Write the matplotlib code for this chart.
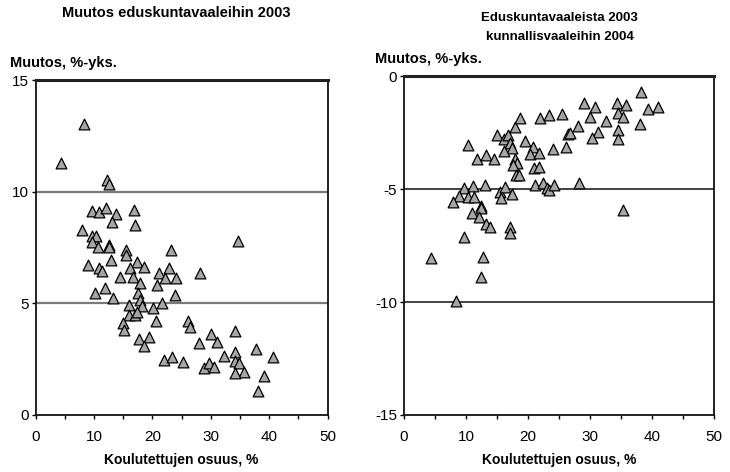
import matplotlib
matplotlib.use("Agg")
import matplotlib.pyplot as plt

plt.rcParams["font.family"] = ["Liberation Sans", "DejaVu Sans"]
plt.rcParams["axes.unicode_minus"] = False

# vasen paneeli: muutos eduskuntavaaleihin 2003
left_x = [4.4, 8.3, 12.3, 12.6, 9.6, 10.9, 12.1, 13.8, 16.9, 13.1, 17.0, 7.9, 9.6, 10.3,
          9.7, 10.6, 12.5, 12.6, 15.5, 15.5, 23.2, 34.7, 8.9, 10.9, 11.4, 12.9, 17.3, 16.1,
          18.5, 21.1, 22.8, 28.1, 14.4, 16.7, 17.9, 22.2, 24.0, 20.8, 10.2, 11.8, 13.2, 17.6,
          23.8, 17.8, 21.7, 20.1, 16.0, 18.2, 16.0, 17.1, 17.4, 15.0, 15.2, 20.6, 17.7, 19.4,
          18.5, 26.1, 26.5, 27.9, 30.0, 31.1, 34.1, 21.9, 23.3, 25.3, 28.8, 29.7, 30.5, 32.3,
          34.1, 34.1, 34.8, 35.6, 34.1, 37.7, 40.7, 39.1, 38.1]
left_y = [11.3, 13.05, 10.5, 10.35, 9.12, 9.09, 9.27, 9.01, 9.16, 8.62, 8.52, 8.30, 8.0, 8.0,
          7.74, 7.52, 7.62, 7.52, 7.40, 7.17, 7.40, 7.77, 6.73, 6.58, 6.43, 6.95, 6.87, 6.58,
          6.61, 6.35, 6.58, 6.35, 6.20, 6.17, 5.91, 6.13, 6.13, 5.83, 5.46, 5.68, 5.25, 5.46,
          5.38, 5.16, 5.0, 4.81, 4.93, 4.89, 4.48, 4.48, 4.6, 4.14, 3.81, 4.23, 3.41, 3.48,
          3.11, 4.23, 3.92, 3.21, 3.62, 3.26, 3.77, 2.47, 2.61, 2.36, 2.09, 2.32, 2.14, 2.66,
          2.8, 2.43, 2.35, 1.94, 1.87, 2.95, 2.61, 1.75, 1.08]

# oikea paneeli: eduskuntavaaleista 2003 kunnallisvaaleihin 2004
right_x = [4.3, 12.8, 9.7, 10.4, 11.8, 13.2, 14.5, 15.0, 16.1, 16.8, 17.1, 17.5, 16.1, 17.9,
           18.7, 19.5, 17.9, 18.2, 17.6, 18.1, 18.6, 20.8, 20.3, 21.8, 21.0, 21.8, 22.0, 23.4,
           25.5, 24.0, 26.2, 26.5, 9.6, 11.1, 13.0, 8.9, 7.9, 10.4, 11.3, 12.5, 12.4, 11.0,
           12.1, 13.2, 13.9, 15.5, 15.6, 16.3, 17.4, 17.1, 17.1, 21.2, 22.4, 23.0, 23.4, 24.2,
           12.4, 8.4, 38.3, 29.0, 30.8, 34.4, 35.8, 39.4, 41.0, 30.0, 34.5, 35.4, 32.6, 38.0,
           28.1, 26.7, 31.3, 30.3, 34.5, 34.5, 28.3, 35.4]
right_y = [-8.07, -8.02, -7.11, -3.05, -3.69, -3.50, -3.69, -2.61, -2.79, -2.61, -2.98, -3.20,
           -3.32, -2.24, -1.87, -2.86, -3.69, -3.86, -3.94, -4.38, -4.38, -3.13, -3.47, -3.39,
           -4.06, -4.01, -1.87, -1.73, -1.68, -3.24, -3.16, -2.58, -4.97, -4.87, -4.82, -5.31,
           -5.56, -5.37, -5.37, -5.75, -5.86, -6.08, -6.23, -6.55, -6.67, -5.12, -5.41, -4.92,
           -5.22, -6.67, -6.93, -4.82, -4.75, -4.97, -5.04, -4.82, -8.91, -9.94, -0.69, -1.21,
           -1.39, -1.18, -1.28, -1.46, -1.36, -1.80, -1.62, -1.83, -1.98, -2.12, -2.21, -2.54,
           -2.46, -2.76, -2.39, -2.80, -4.75, -5.93]

x_ticks = [0, 10, 20, 30, 40, 50]
left_yticks = [0, 5, 10, 15]
right_yticks = [-15, -10, -5, 0]

MARKER_FACE = "#a6a6a6"


def style_axis(ax, grid_vals, grid_color, grid_lw):
    for v in grid_vals:
        ax.axhline(v, color=grid_color, lw=grid_lw, zorder=1)
    for side in ["left", "right", "bottom"]:
        ax.spines[side].set_color("#111111")
        ax.spines[side].set_linewidth(1.3)
    ax.spines["top"].set_color("#222222")
    ax.spines["top"].set_linewidth(2.2)
    ax.set_xlim(0, 50)
    ax.set_xticks(x_ticks)
    ax.set_xticks(range(0, 51, 5), minor=True)
    ax.tick_params(axis="both", which="both", direction="out", length=3, width=1,
                   labelsize=11, pad=8)
    ax.tick_params(axis="y", pad=2)
    ax.set_xlabel("Koulutettujen osuus, %", fontsize=10, fontweight="bold", labelpad=6)


fig = plt.figure(figsize=(7.3, 4.72), dpi=100)

ax1 = fig.add_axes([0.0488, 0.1208, 0.4, 0.7097])
style_axis(ax1, [5, 10], "#7a7a7a", 1.6)
ax1.scatter(left_x, left_y, marker="^", s=60, facecolor=MARKER_FACE,
            edgecolor="black", linewidths=0.9, zorder=3, clip_on=False)
ax1.set_ylim(0, 15)
ax1.set_yticks(left_yticks)
fig.text(0.241, 0.972, "Muutos eduskuntavaaleihin 2003", ha="center", va="center",
         fontsize=10.5, fontweight="bold")
fig.text(0.014, 0.866, "Muutos, %-yks.", ha="left", va="center",
         fontsize=10.5, fontweight="bold")

ax2 = fig.add_axes([0.5534, 0.1208, 0.4247, 0.718])
style_axis(ax2, [-5, -10], "#222222", 1.2)
ax2.scatter(right_x, right_y, marker="^", s=60, facecolor=MARKER_FACE,
            edgecolor="black", linewidths=0.9, zorder=3, clip_on=False)
ax2.set_ylim(-15, 0)
ax2.set_yticks(right_yticks)
fig.text(0.767, 0.962, "Eduskuntavaaleista 2003", ha="center", va="center",
         fontsize=9.5, fontweight="bold")
fig.text(0.767, 0.922, "kunnallisvaaleihin 2004", ha="center", va="center",
         fontsize=9.5, fontweight="bold")
fig.text(0.514, 0.876, "Muutos, %-yks.", ha="left", va="center",
         fontsize=10.5, fontweight="bold")

fig.savefig("out.png", dpi=100, facecolor="white")
